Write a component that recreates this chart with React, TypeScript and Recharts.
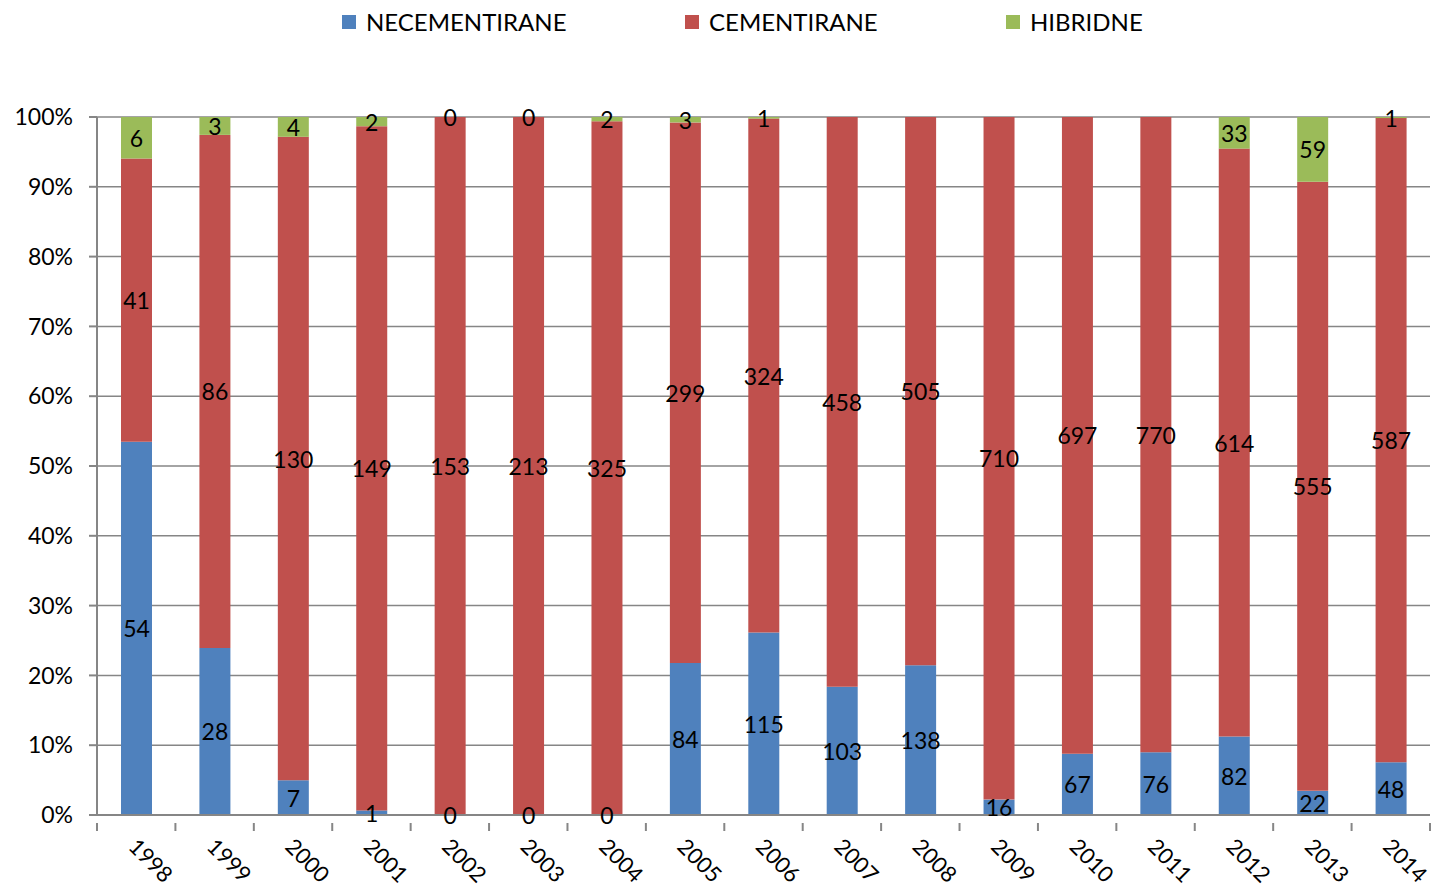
import React from "react";
import { BarChart, Bar, XAxis, YAxis, CartesianGrid, LabelList } from "recharts";

const years = ["1998","1999","2000","2001","2002","2003","2004","2005","2006","2007","2008","2009","2010","2011","2012","2013","2014"];
const necementirane = [54, 28, 7, 1, 0, 0, 0, 84, 115, 103, 138, 16, 67, 76, 82, 22, 48];
const cementirane = [41, 86, 130, 149, 153, 213, 325, 299, 324, 458, 505, 710, 697, 770, 614, 555, 587];
const hibridne: (number | null)[] = [6, 3, 4, 2, 0, 0, 2, 3, 1, null, null, null, null, null, 33, 59, 1];
const yTicks = [0, 0.1, 0.2, 0.3, 0.4, 0.5, 0.6, 0.7, 0.8, 0.9, 1];

const seriesNames = ["NECEMENTIRANE", "CEMENTIRANE", "HIBRIDNE"];
const colors = ["#4F81BD", "#C0504D", "#9BBB59"];

const data = years.map((y, i) => ({
  year: y,
  n: necementirane[i],
  c: cementirane[i],
  h: hibridne[i] ?? 0,
  hLabel: hibridne[i],
  zeroInfo: `${necementirane[i]}|${hibridne[i] === null ? "x" : hibridne[i]}`,
}));

const FONT = "Lato, 'Open Sans', sans-serif";
const FS = 23;
const AXIS = "#868686";

const LabelText = ({ x, y, children }: any) => (
  <text
    x={x}
    y={y}
    textAnchor="middle"
    dominantBaseline="central"
    fontSize={FS}
    fontFamily={FONT}
    fill="#000"
  >
    {children}
  </text>
);

const renderLabel = (props: any) => {
  const { x, y, width, height, value } = props;
  if (value === null || value === undefined || value === 0) return null;
  return (
    <LabelText x={Number(x) + Number(width) / 2} y={Number(y) + Number(height) / 2}>
      {value}
    </LabelText>
  );
};

// Zero-valued segments have no rectangle, so their "0" labels are placed at the
// edges of the neighbouring (red) segment.
const renderZeroLabels = (props: any) => {
  const { x, y, width, height, value } = props;
  if (typeof value !== "string") return null;
  const [nv, hv] = value.split("|");
  const cx = Number(x) + Number(width) / 2;
  return (
    <g>
      {nv === "0" && <LabelText x={cx} y={Number(y) + Number(height)}>0</LabelText>}
      {hv === "0" && <LabelText x={cx} y={Number(y)}>0</LabelText>}
    </g>
  );
};

const XTick = (props: any) => {
  const { x, y, payload, index, visibleTicksCount } = props;
  const half = payload && payload.offset ? payload.offset : 39.2;
  const isLast = index === (visibleTicksCount ?? years.length) - 1;
  const tx = x - 9;
  const ty = y + 25;
  return (
    <g>
      <line x1={x - half} y1={y} x2={x - half} y2={y + 8} stroke={AXIS} strokeWidth={2} />
      {isLast && <line x1={x + half} y1={y} x2={x + half} y2={y + 8} stroke={AXIS} strokeWidth={2} />}
      <text
        x={tx}
        y={ty}
        transform={`rotate(45 ${tx} ${ty})`}
        textAnchor="start"
        fontSize={22}
        fontFamily={FONT}
        fill="#000"
      >
        {payload.value}
      </text>
    </g>
  );
};

const legendX = [342, 685, 1006];

export default function App() {
  return (
    <div style={{ position: "absolute", left: 0, top: 0, width: 1436, height: 890, background: "#fff" }}>
      {seriesNames.map((name, i) => (
        <div
          key={name}
          style={{
            position: "absolute",
            left: legendX[i],
            top: 8,
            display: "flex",
            alignItems: "center",
            fontFamily: FONT,
            fontSize: 24,
            color: "#000",
            lineHeight: "28px",
          }}
        >
          <span style={{ display: "inline-block", width: 14, height: 14, background: colors[i], marginRight: 10 }} />
          <span>{name}</span>
        </div>
      ))}
      <BarChart
        width={1436}
        height={890}
        data={data}
        stackOffset="expand"
        margin={{ top: 117, right: 6, bottom: 0, left: 0 }}
        barSize={31}
      >
        <CartesianGrid vertical={false} stroke={AXIS} strokeWidth={1.5} />
        <XAxis
          dataKey="year"
          height={75}
          tickLine={false}
          axisLine={{ stroke: AXIS, strokeWidth: 2 }}
          tick={<XTick />}
          interval={0}
        />
        <YAxis
          width={97}
          domain={[0, 1]}
          ticks={yTicks}
          tickFormatter={(v: number) => `${Math.round(v * 100)}%`}
          axisLine={{ stroke: AXIS, strokeWidth: 2 }}
          tickLine={{ stroke: AXIS, strokeWidth: 2 }}
          tickSize={8}
          tickMargin={16}
          tick={{ fontSize: FS, fontFamily: FONT, fill: "#000" }}
          interval={0}
        />
        <Bar dataKey="n" stackId="a" fill={colors[0]} isAnimationActive={false}>
          <LabelList dataKey="n" content={renderLabel} />
        </Bar>
        <Bar dataKey="c" stackId="a" fill={colors[1]} isAnimationActive={false}>
          <LabelList dataKey="c" content={renderLabel} />
          <LabelList dataKey="zeroInfo" content={renderZeroLabels} />
        </Bar>
        <Bar dataKey="h" stackId="a" fill={colors[2]} isAnimationActive={false}>
          <LabelList dataKey="hLabel" content={renderLabel} />
        </Bar>
      </BarChart>
    </div>
  );
}
